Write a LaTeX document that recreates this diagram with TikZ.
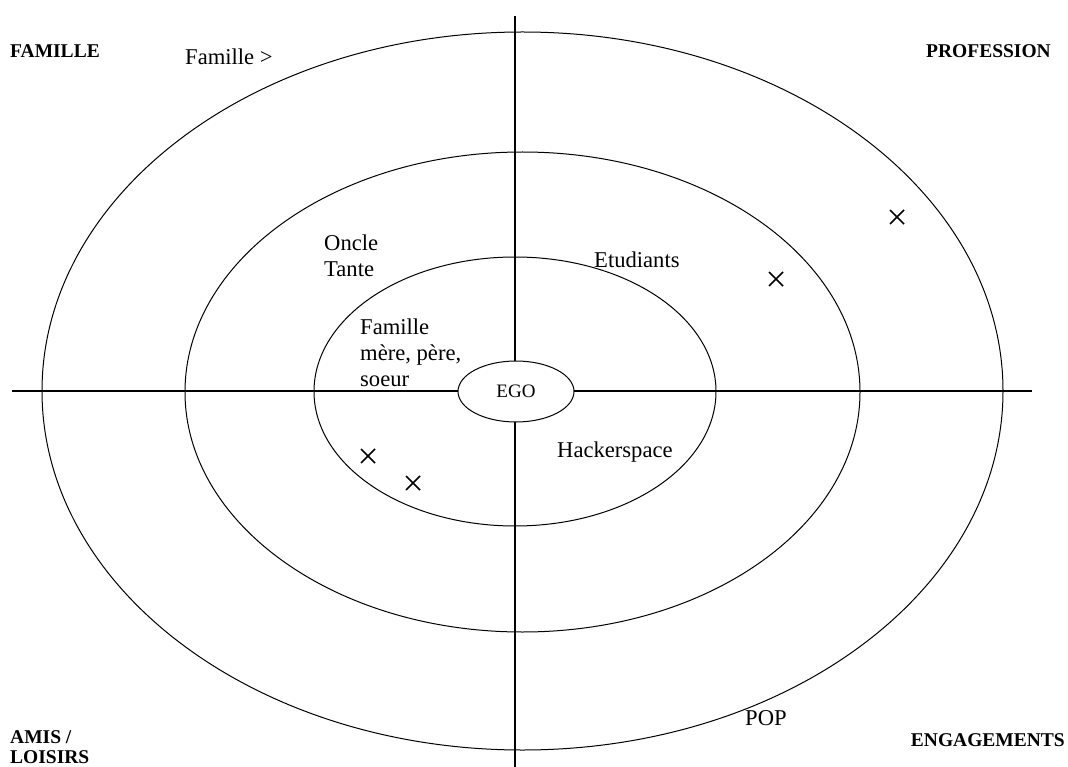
\documentclass[tikz,border=0pt]{standalone}
\usepackage{fontspec}
\setmainfont{Liberation Serif}
\usetikzlibrary{positioning}
\usetikzlibrary{shapes.geometric}

\tikzset{
  ring/.style={line width=1pt},
  axis/.style={line width=2pt},
  corner/.style={font=\fontsize{19.5}{20}\selectfont\bfseries, align=left},
  cross/.style={line width=1.5pt}
}

\begin{document}
\begin{tikzpicture}[x=1pt,y=-1pt,every node/.style={font=\fontsize{22.6}{26}\selectfont, inner sep=0pt, align=left}]
        \useasboundingbox (0,0) rectangle (1068,767);

        % axes
        \coordinate (left)   at (12,391);
        \coordinate (right)  at (1032,391);
        \coordinate (top)    at (515,16);
        \coordinate (bottom) at (515,767);
        \draw[axis] (left) -- (right);
        \draw[axis] (top) -- (bottom);

        % rings
        \draw[ring] (522.5,391) ellipse [x radius=480.5, y radius=359];
        \draw[ring] (522.5,392) ellipse [x radius=337.5, y radius=240];
        \draw[ring] (515,391.5) ellipse [x radius=201, y radius=134.5];
        \node[draw, ring, fill=white, ellipse, minimum width=116, minimum height=61,
              font=\fontsize{19}{20}\selectfont] (ego) at (516,391.5) {EGO};

        % corners
        \node[corner, anchor=west] (famille)    at (10,51)   {FAMILLE};
        \node[corner, anchor=east] (profession) at (1051,51) {PROFESSION};
        \node[corner, anchor=west] (amis)       at (10,747)  {AMIS /\\LOISIRS};
        \node[corner, anchor=east] (engagements) at (1065,740) {ENGAGEMENTS};

        % labels
        \node[anchor=west] (famillegt) at (185,57)  {Famille >};
        \node[anchor=west] (oncle)     at (324,256) {Oncle\\Tante};
        \node[anchor=west] (proches)   at (360,353) {Famille\\mère, père,\\soeur};
        \node[anchor=west] (etudiants) at (594,260) {Etudiants};
        \node[anchor=west] (hacker)    at (557,452) {Hackerspace};
        \node[anchor=west] (pop)       at (745,718) {POP};

        % crosses
        \foreach \x/\y in {368/456, 413/483, 776/279, 897/217}
        \draw[cross] (\x-7,\y-7) -- (\x+7,\y+7) (\x-7,\y+7) -- (\x+7,\y-7);
\end{tikzpicture}
\end{document}
